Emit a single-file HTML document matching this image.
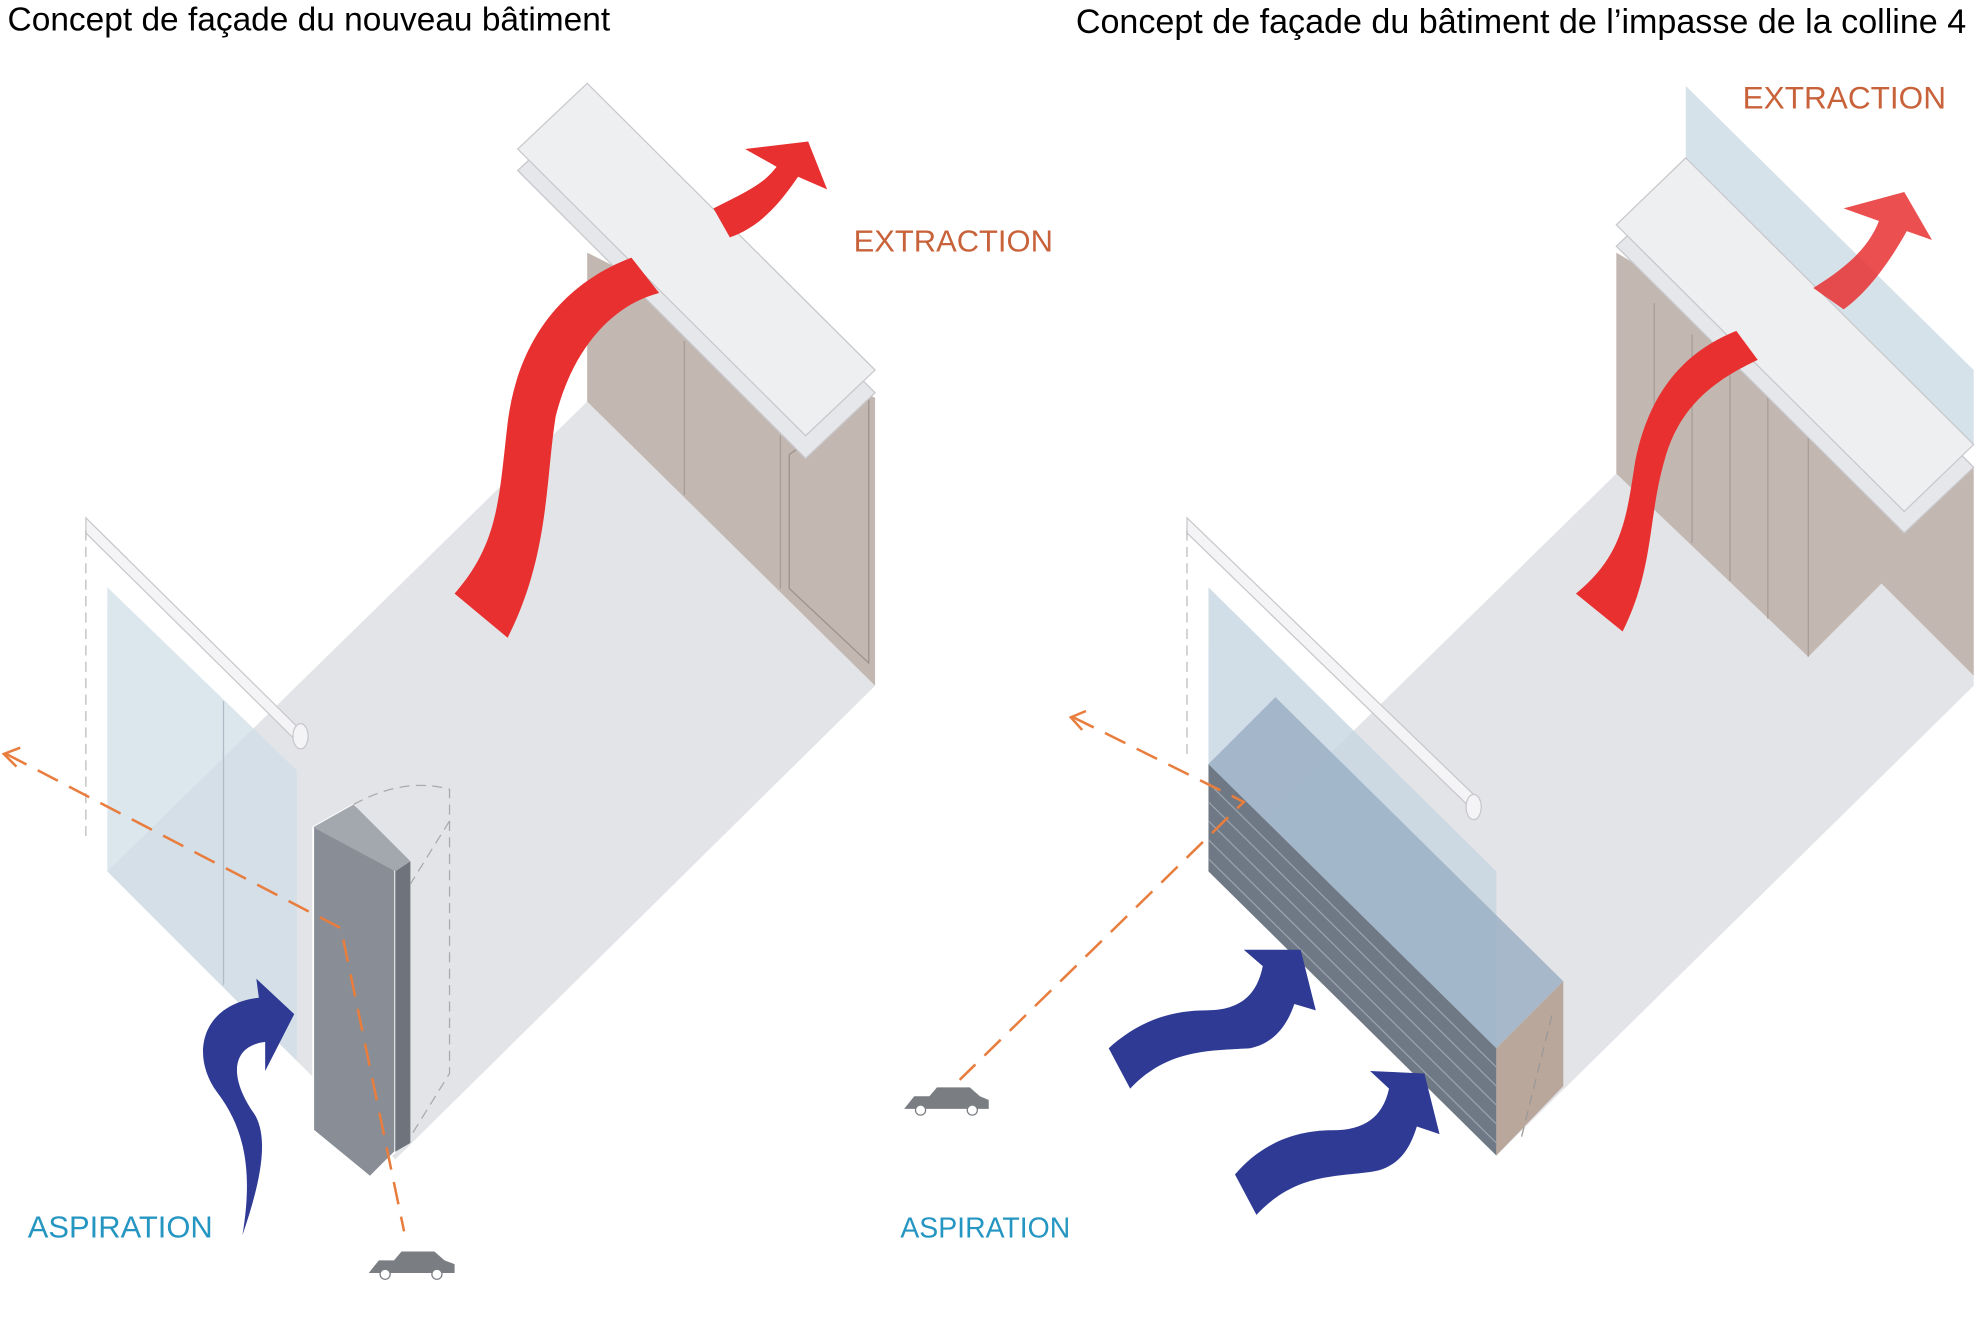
<!DOCTYPE html>
<html><head><meta charset="utf-8"><style>
html,body{margin:0;padding:0;background:#fff;width:1980px;height:1321px;overflow:hidden}
svg{display:block}
text{font-family:"Liberation Sans",sans-serif}
</style></head><body>
<svg width="1980" height="1321" viewBox="0 0 1568 1046" preserveAspectRatio="none" xmlns="http://www.w3.org/2000/svg">
<rect width="1568" height="1046" fill="#fff"/>
<text x="6" y="24" font-size="26.5" fill="#000">Concept de façade du nouveau bâtiment</text>
<text x="852" y="26" font-size="27" fill="#000">Concept de façade du bâtiment de l’impasse de la colline 4</text>

<!-- LEFT BUILDING -->
<polygon points="85,690 465,318 693,543 313,918" fill="#e3e4e8"/>
<polygon points="465,200 465,318 693,543 693,315" fill="#c2b7b1"/>
<line x1="542" y1="270" x2="542" y2="392" stroke="#a89c96"/>
<line x1="618" y1="345" x2="618" y2="466" stroke="#a89c96"/>
<polygon points="625,360 688,315 688,525 625,466" fill="none" stroke="#9d918b"/>
<polygon points="410,135 465,84 693,311 638,363" fill="#e6e7ea" stroke="#c8c8cc"/>
<polygon points="410,118 465,66 693,293 638,345" fill="#eeeff1" stroke="#c8c8cc"/>
<polygon points="68,410 240,580 240,592 68,422" fill="#f4f4f6" stroke="#c8c8cc"/>
<ellipse cx="238" cy="583" rx="6" ry="10" fill="#f4f4f6" stroke="#c8c8cc"/>
<polygon points="85,465 85,690 235,840 235,610" fill="#cfdde7" opacity="0.75"/>
<line x1="177" y1="555" x2="177" y2="780" stroke="#b0bcc6"/>
<line x1="68" y1="420" x2="68" y2="665" stroke="#bbb" stroke-dasharray="8,5"/>
<polygon points="248,655 248,895 293,932 313,912 313,690 280,637" fill="#888d96" stroke="#fff" stroke-width="1.5"/>
<polygon points="248,655 280,637 325,682 313,690" fill="#a3a7ae"/>
<polygon points="313,690 325,682 325,905 313,912" fill="#6f747c"/>
<path d="M280,637 Q320,615 356,625 L356,650 L325,700 M356,650 L356,850 L325,900" fill="none" stroke="#aaa" stroke-dasharray="8,5"/>
<path d="M5,597 L270,735 L320,975" fill="none" stroke="#e87d3e" stroke-width="2" stroke-dasharray="18,10"/>
<path d="M16,592 L3,597 L13,607" fill="none" stroke="#e87d3e" stroke-width="2"/>
<path d="M360,470 L402,505 C435,440 432,380 440,330 C455,270 490,240 522,232 L500,204 C445,225 410,270 402,335 C395,395 395,430 360,470 Z" fill="#e83030"/>
<path d="M565,165 C595,150 605,145 615,132 L590,118 L640,112 L655,150 L632,140 C615,165 600,180 578,188 Z" fill="#e83030"/>
<path d="M192,978 C200,930 195,895 172,865 C150,835 160,795 205,790 L203,775 L233,803 L210,848 L210,825 C185,828 180,850 200,880 C215,900 205,940 192,978 Z" fill="#2e3a94"/>
<text x="22" y="980" font-size="24.5" fill="#2596c2">ASPIRATION</text>
<text x="676" y="199" font-size="24.5" fill="#c8623a">EXTRACTION</text>
<path d="M292,1008 L300,998 L312,998 L318,991 L344,991 L352,998 L360,1001 L360,1008 Z" fill="#7a7e83"/>
<circle cx="305" cy="1009" r="4" fill="#fff" stroke="#7a7e83"/><circle cx="346" cy="1009" r="4" fill="#fff" stroke="#7a7e83"/>

<!-- RIGHT BUILDING -->
<polygon points="958,690 1280,375 1563,375 1563,543 1185,915" fill="#e3e4e8"/>
<polygon points="1280,200 1280,375 1432,520 1490,462 1563,535 1563,370" fill="#c2b7b1"/>
<line x1="1310" y1="240" x2="1310" y2="400" stroke="#a89c96"/>
<line x1="1340" y1="265" x2="1340" y2="430" stroke="#a89c96"/>
<line x1="1370" y1="290" x2="1370" y2="460" stroke="#a89c96"/>
<line x1="1400" y1="315" x2="1400" y2="490" stroke="#a89c96"/>
<line x1="1432" y1="340" x2="1432" y2="520" stroke="#a89c96"/>
<polygon points="1335,68 1563,293 1563,352 1335,125" fill="#d6e2ea"/>
<polygon points="1280,195 1335,143 1563,370 1508,422" fill="#e6e7ea" stroke="#c8c8cc"/>
<polygon points="1280,178 1335,125 1563,352 1508,405" fill="#eeeff1" stroke="#c8c8cc"/>
<polygon points="940,410 1170,632 1170,645 940,422" fill="#f4f4f6" stroke="#c8c8cc"/>
<ellipse cx="1167" cy="639" rx="6" ry="10" fill="#f4f4f6" stroke="#c8c8cc"/>
<polygon points="957,465 957,610 1185,835 1185,690" fill="#c6d6e1" opacity="0.8"/>
<line x1="940" y1="420" x2="940" y2="600" stroke="#bbb" stroke-dasharray="8,5"/>
<polygon points="957,605 957,690 1185,915 1185,830" fill="#6f7885"/>
<g stroke="#9aa3ae" stroke-width="1">
<line x1="957" y1="620" x2="1185" y2="845"/><line x1="957" y1="635" x2="1185" y2="860"/>
<line x1="957" y1="650" x2="1185" y2="875"/><line x1="957" y1="665" x2="1185" y2="890"/>
<line x1="957" y1="680" x2="1185" y2="905"/></g>
<polygon points="957,605 1010,552 1238,777 1185,830" fill="#9fb3c6" opacity="0.9"/>
<polygon points="1185,830 1238,777 1238,860 1185,915" fill="#b9a79c"/>
<path d="M1205,900 L1230,800" stroke="#999" stroke-dasharray="8,5"/>
<path d="M850,568 L985,635 L760,855" fill="none" stroke="#e87d3e" stroke-width="2" stroke-dasharray="18,10"/>
<path d="M860,563 L848,568 L857,578" fill="none" stroke="#e87d3e" stroke-width="2"/>
<path d="M1248,470 L1285,500 C1310,450 1305,410 1318,365 C1330,320 1360,300 1392,285 L1375,262 C1330,280 1305,315 1295,365 C1288,410 1285,440 1248,470 Z" fill="#e83030"/>
<path d="M1436,228 C1465,210 1480,195 1488,175 L1460,165 L1508,152 L1530,190 L1510,183 C1495,210 1478,232 1460,245 Z" fill="#e83030" opacity="0.85"/>
<path d="M878,830 L895,862 C925,830 960,832 990,830 C1010,826 1020,810 1025,795 L1042,800 L1030,752 L985,752 L1000,765 C995,790 980,800 955,800 C925,800 900,810 878,830 Z" fill="#2e3a94"/>
<path d="M978,930 L995,962 C1025,930 1055,932 1085,928 C1110,925 1118,905 1122,892 L1140,898 L1128,850 L1085,848 L1100,862 C1095,885 1080,895 1055,895 C1020,895 995,910 978,930 Z" fill="#2e3a94"/>
<text x="713" y="980" font-size="22.5" fill="#2596c2">ASPIRATION</text>
<text x="1380" y="86" font-size="25" fill="#c8623a">EXTRACTION</text>
<path d="M716,878 L724,868 L736,868 L742,861 L768,861 L776,868 L783,871 L783,878 Z" fill="#7a7e83"/>
<circle cx="729" cy="879" r="4" fill="#fff" stroke="#7a7e83"/><circle cx="770" cy="879" r="4" fill="#fff" stroke="#7a7e83"/>
</svg>
</body></html>
